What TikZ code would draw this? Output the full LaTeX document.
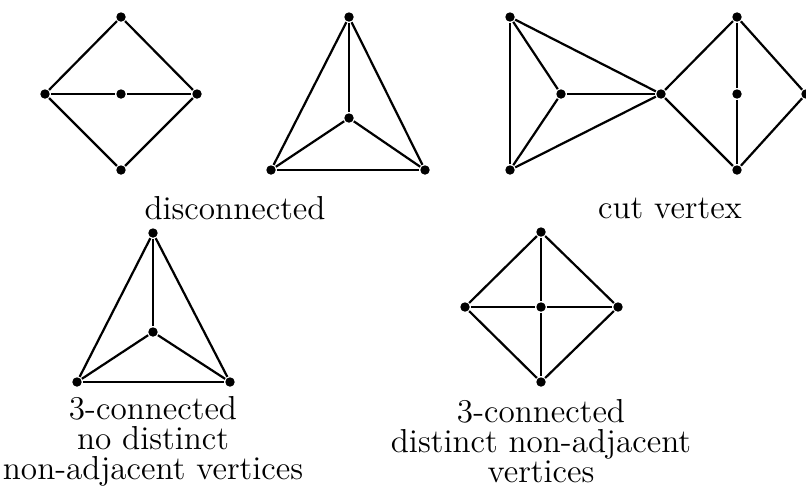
\documentclass[tikz,border=0pt]{standalone}
\usepackage{tikz}
\usetikzlibrary{positioning}

\begin{document}
\begin{tikzpicture}[x=0.0127cm, y=-0.0127cm, line width=0.8pt,
  vtx/.style={circle, fill=black, inner sep=0pt, minimum size=3.4pt},
  lbl/.style={font=\fontsize{12}{10.8}\selectfont, align=center}]
\useasboundingbox (0,0) rectangle (806,500);
% diamond with path through the middle
\node[vtx] (a1) at (121,17) {};
\node[vtx] (a2) at (45,94) {};
\node[vtx] (a3) at (121,94) {};
\node[vtx] (a4) at (197,94) {};
\node[vtx] (a5) at (121,170) {};
\foreach \u/\w in {a1/a2,a1/a4,a2/a5,a4/a5,a2/a3,a3/a4} \draw (\u) -- (\w);
% triangle with centre
\node[vtx] (b1) at (349,17) {};
\node[vtx] (b2) at (349,118) {};
\node[vtx] (b3) at (271,170) {};
\node[vtx] (b4) at (425,170) {};
\foreach \u/\w in {b1/b3,b1/b4,b3/b4,b1/b2,b2/b3,b2/b4} \draw (\u) -- (\w);
% two blocks joined at a cut vertex
\node[vtx] (c1) at (510,17) {};
\node[vtx] (c2) at (510,170) {};
\node[vtx] (c3) at (561,94) {};
\node[vtx] (c4) at (661,94) {};
\node[vtx] (c5) at (737,17) {};
\node[vtx] (c6) at (737,94) {};
\node[vtx] (c7) at (737,170) {};
\node[vtx] (c8) at (806,94) {};
\foreach \u/\w in {c1/c2,c1/c3,c2/c3,c1/c4,c2/c4,c3/c4,c4/c5,c4/c7,c5/c6,c6/c7,c5/c8,c7/c8} \draw (\u) -- (\w);
\node[lbl] (t1) at (235,208) {disconnected};
\node[lbl] (t2) at (670,208) {cut vertex};
% bottom row
\node[vtx] (d1) at (153,233) {};
\node[vtx] (d2) at (153,332) {};
\node[vtx] (d3) at (77,382) {};
\node[vtx] (d4) at (230,382) {};
\foreach \u/\w in {d1/d3,d1/d4,d3/d4,d1/d2,d2/d3,d2/d4} \draw (\u) -- (\w);
\node[vtx] (e1) at (541,232) {};
\node[vtx] (e2) at (465,307) {};
\node[vtx] (e3) at (541,307) {};
\node[vtx] (e4) at (618,307) {};
\node[vtx] (e5) at (541,382) {};
\foreach \u/\w in {e1/e2,e1/e4,e2/e5,e4/e5,e1/e3,e3/e5,e2/e3,e3/e4} \draw (\u) -- (\w);
\node[lbl] (t3) at (153,441) {3-connected\\ no distinct\\ non-adjacent vertices};
\node[lbl] (t4) at (541,441) {3-connected\\ distinct non-adjacent\\ vertices};
\end{tikzpicture}
\end{document}
